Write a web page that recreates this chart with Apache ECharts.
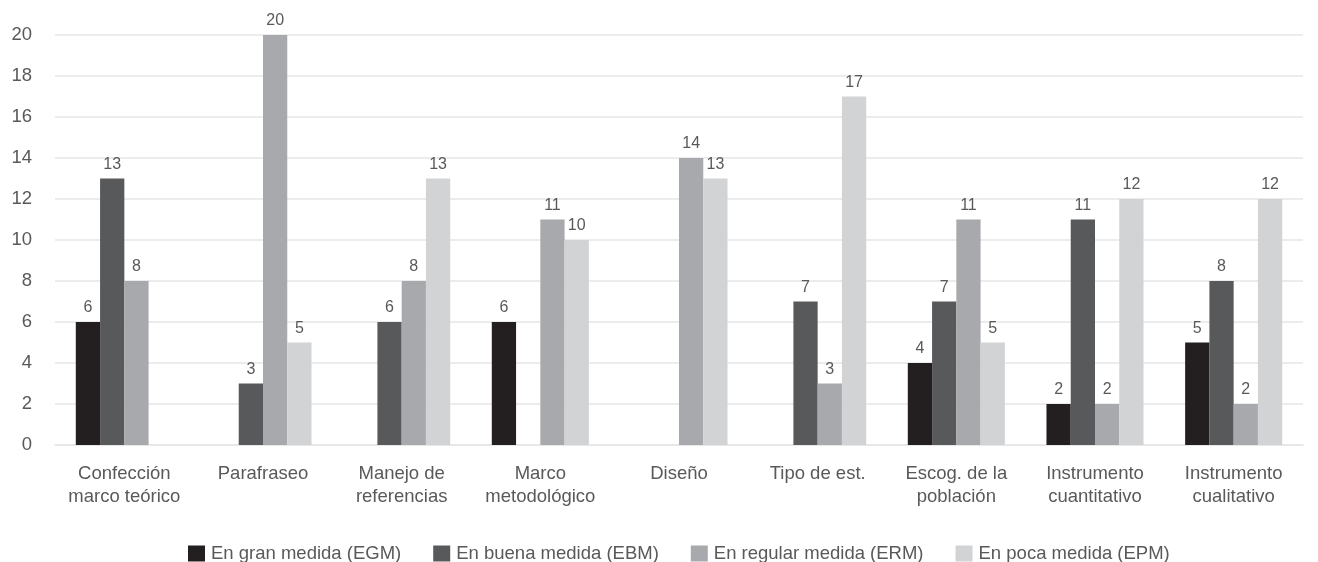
<!DOCTYPE html>
<html>
<head>
<meta charset="utf-8">
<script src="https://cdn.jsdelivr.net/npm/echarts@6/dist/echarts.min.js"></script>
<style>
html,body{margin:0;padding:0;background:#fff;}
#c{width:1318px;height:562px;}
</style>
</head>
<body>
<div id="c"></div>
<script>
const categories = [
  "Confección\nmarco teórico",
  "Parafraseo",
  "Manejo de\nreferencias",
  "Marco\nmetodológico",
  "Diseño",
  "Tipo de est.",
  "Escog. de la\npoblación",
  "Instrumento\ncuantitativo",
  "Instrumento\ncualitativo"
];
const seriesNames = ["En gran medida (EGM)", "En buena medida (EBM)", "En regular medida (ERM)", "En poca medida (EPM)"];
const egm = [6, null, null, 6, null, null, 4, 2, 5];
const ebm = [13, 3, 6, null, null, 7, 7, 11, 8];
const erm = [8, 20, 8, 11, 14, 3, 11, 2, 2];
const epm = [null, 5, 13, 10, 13, 17, 5, 12, 12];
const yTicks = [0, 2, 4, 6, 8, 10, 12, 14, 16, 18, 20];
const colors = ["#231f20", "#58595b", "#a7a9ac", "#d1d3d4"];

const font = "Liberation Sans, Arial, sans-serif";
const chart = echarts.init(document.getElementById('c'));
const data = [egm, ebm, erm, epm];
chart.setOption({
  animation: false,
  textStyle: { fontFamily: font },
  color: colors,
  grid: { left: 55, right: 15, top: 35, bottom: 117, containLabel: false },
  legend: {
    top: 539, left: 183,
    itemWidth: 17, itemHeight: 16, itemGap: 32,
    icon: 'rect',
    textStyle: { fontSize: 18.5, color: '#595959', fontFamily: font, padding: [0, 0, 0, 1] },
    data: seriesNames
  },
  xAxis: {
    type: 'category',
    data: categories,
    axisLine: { show: true, lineStyle: { color: '#e6e6e6', width: 1.5 } },
    axisTick: { show: false },
    axisLabel: { color: '#595959', fontSize: 18.5, lineHeight: 22.5, margin: 18, interval: 0, fontFamily: font }
  },
  yAxis: {
    type: 'value',
    min: yTicks[0], max: yTicks[yTicks.length - 1], interval: 2,
    axisLine: { show: false },
    axisTick: { show: false },
    splitLine: { lineStyle: { color: '#e6e6e6', width: 1.5 } },
    axisLabel: { color: '#595959', fontSize: 18.5, margin: 23, fontFamily: font }
  },
  series: seriesNames.map((n, i) => ({
    name: n,
    type: 'bar',
    data: data[i],
    barGap: '0%',
    barCategoryGap: '30%',
    itemStyle: { color: colors[i] },
    label: { show: true, position: 'top', distance: 6, color: '#595959', fontSize: 16, fontFamily: font }
  }))
});
</script>
</body>
</html>
